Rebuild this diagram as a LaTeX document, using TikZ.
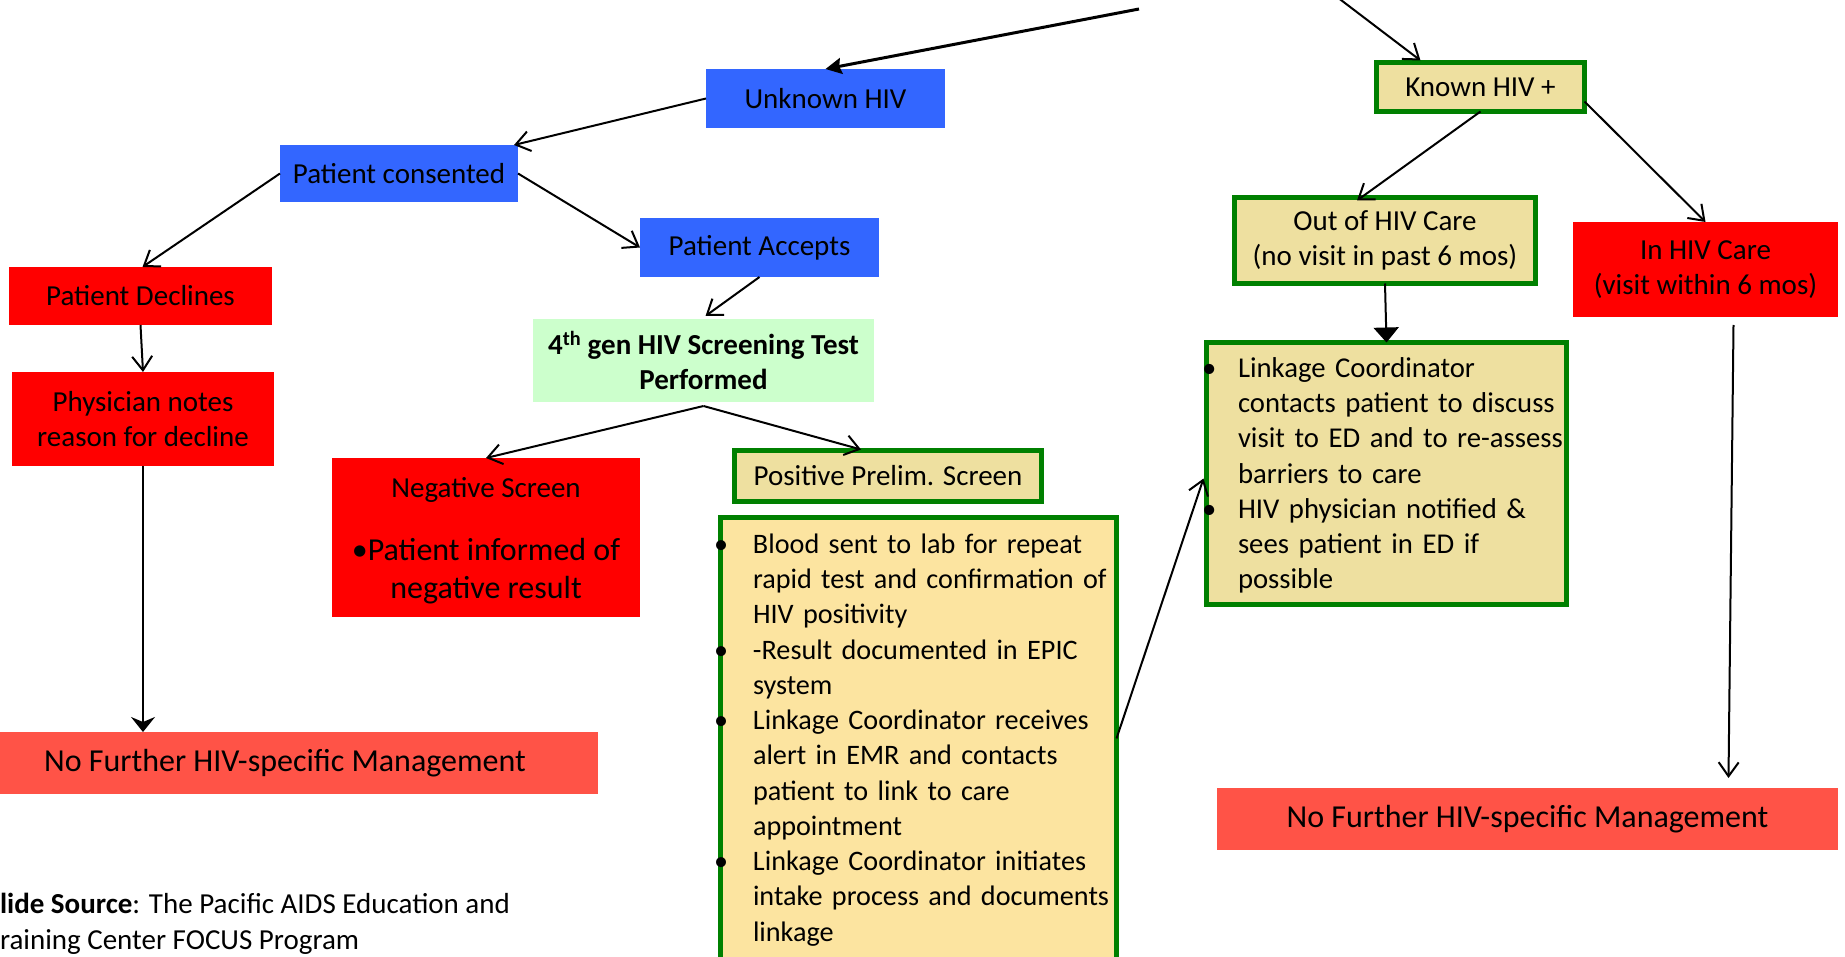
\documentclass[tikz,border=0pt]{standalone}
\usepackage{fontspec}
\setmainfont{Carlito}
\usetikzlibrary{arrows.meta,calc}
\definecolor{boxblue}{RGB}{51,102,255}
\definecolor{boxred}{RGB}{255,0,0}
\definecolor{nfred}{RGB}{255,83,71}
\definecolor{mint}{RGB}{204,255,204}
\definecolor{khaki}{RGB}{238,224,160}
\definecolor{pale}{RGB}{252,228,160}
\definecolor{frame}{RGB}{0,128,0}
\newcommand{\bdot}{\makebox[34pt][l]{\hspace{-5pt}•}}
\newcommand{\bgap}{\hspace*{34pt}}
\newcommand{\cdotl}{\makebox[31pt][l]{\hspace{-5pt}•}}
\newcommand{\cgap}{\hspace*{31pt}}
\tikzset{
  basebox/.style={rectangle, inner sep=0pt, outer sep=0pt, align=center, font=\fontsize{29}{35.3}\selectfont},
  bluebox/.style={basebox, fill=boxblue},
  redbox/.style={basebox, fill=boxred},
  nfbox/.style={basebox, fill=nfred, font=\fontsize{32}{38.6}\selectfont},
  mintbox/.style={basebox, fill=mint, font=\bfseries\fontsize{29}{35.3}\selectfont},
  kbox/.style={basebox, fill=khaki, draw=frame, line width=5pt},
  ybox/.style={basebox, fill=pale, draw=frame, line width=5pt},
  sz/.style 2 args={minimum width=#1pt, minimum height=#2pt},
  txt/.style={inner sep=0pt, outer sep=0pt, align=left, font=\fontsize{29}{35.3}\selectfont},
  ctxt/.style={inner sep=0pt, outer sep=0pt, align=center, font=\fontsize{29}{35.3}\selectfont},
  conn/.style={line width=2pt, -{Straight Barb[length=14pt,width=20pt,line width=2pt]}},
  fconn/.style={line width=2pt, -{Stealth[length=15pt,width=24pt,inset=5pt]}},
}
\begin{document}
\begin{tikzpicture}[x=1pt,y=-1pt]
\useasboundingbox (0,0) rectangle (1845,957);
\clip (0,0) rectangle (1845,957);

% left branch
\node[bluebox, sz={239}{59}] (unk) at (825.5,98.5) {Unknown HIV};
\node[bluebox, sz={238}{57}] (cons) at (399,173.5) {Patient consented};
\node[bluebox, sz={239}{59}] (acc) at (759.5,247.5) {Patient Accepts};
\node[redbox, sz={263}{58}] (decl) at (140.5,296) {Patient Declines};
\node[redbox, sz={262}{94}] (phys) at (143,419) {Physician notes\\reason for decline};
\node[mintbox, sz={341}{83}] (gen) at (703.5,360.5) {4\textsuperscript{th} gen HIV Screening Test\\Performed};
\node[redbox, sz={308}{159}] (neg) at (486,537.5) {};
\node[ctxt] (negt1) at (486,490) {Negative Screen};
\node[ctxt, font=\fontsize{32}{38.6}\selectfont] (negt2) at (486,571) {•Patient informed of\\negative result};
\node[kbox, sz={307}{51}] (pos) at (888,476) {Positive Prelim. Screen};
\node[ybox, sz={396}{442}] (bul) at (918.5,738.5) {};
\node[txt, anchor=west, text width=420pt, font=\fontsize{28.2}{35.25}\selectfont] (bult) at (719,740) {%
\bdot Blood sent to lab for repeat\\
\bgap rapid test and confirmation of\\
\bgap HIV positivity\\
\bdot -Result documented in EPIC\\
\bgap system\\
\bdot Linkage Coordinator receives\\
\bgap alert in EMR and contacts\\
\bgap patient to link to care\\
\bgap appointment\\
\bdot Linkage Coordinator initiates\\
\bgap intake process and documents\\
\bgap linkage};
\node[nfbox, sz={626}{62}] (nfl) at (285,763) {No Further HIV-specific Management};

% right branch
\node[kbox, sz={208}{49}] (knw) at (1480.5,87) {Known HIV +};
\node[kbox, sz={301}{86}] (out) at (1385,240.5) {Out of HIV Care\\(no visit in past 6 mos)};
\node[redbox, sz={265}{95}] (inh) at (1705.5,269.5) {In HIV Care\\(visit within 6 mos)};
\node[kbox, sz={360}{262}] (lnk) at (1386.5,473.5) {};
\node[txt, anchor=west, text width=370pt, font=\fontsize{28.7}{35.25}\selectfont] (lnkt) at (1207,475.5) {%
\cdotl Linkage Coordinator\\
\cgap contacts patient to discuss\\
\cgap visit to ED and to re-assess\\
\cgap barriers to care\\
\cdotl HIV physician notified \&\\
\cgap sees patient in ED if\\
\cgap possible};
\node[nfbox, sz={621}{62}] (nfr) at (1527.5,819) {No Further HIV-specific Management};

% source
\node[txt, anchor=base west] (src) at (0,949) {\textbf{lide Source}: The Pacific AIDS Education and\\raining Center FOCUS Program};

% connectors
\coordinate (s1) at (1139,9);
\coordinate (s2) at (1337,-3);
\coordinate (gsplit) at ($(gen.south)+(0,4)$);
\draw[line width=3pt, -{Stealth[length=16pt,width=16pt,inset=2pt]}] (s1) -- (unk.north);
\draw[conn] (s2) -- ($(knw.north)+(-60,-2)$);
\draw[conn] (unk.west) -- ($(cons.north east)+(-4,0)$);
\draw[conn] (cons.west) -- ($(decl.north)+(2,0)$);
\draw[conn] (cons.east) -- (acc.west);
\draw[conn] (acc.south) -- ($(gen.north)+(2,-3)$);
\draw[conn] (decl.south) -- (phys.north);
\draw[fconn] (phys.south) -- (phys.south |- nfl.north);
\draw[conn] (gsplit) -- (neg.north);
\draw[conn] (gsplit) -- ($(pos.north)+(-27,-1)$);
\draw[conn] (bul.east) -- ($(lnk.west)+(-3,5)$);
\draw[conn] (knw.south) -- ($(out.north)+(-28,3)$);
\draw[conn] ($(knw.south east)+(0,-10)$) -- (inh.north);
\draw[line width=2pt, -{Triangle[length=15pt,width=25pt]}] (out.south) -- (lnk.north);
\draw[conn] ($(inh.south)+(28,8)$) -- ($(nfr.north)+(201,-10)$);
\end{tikzpicture}
\end{document}
